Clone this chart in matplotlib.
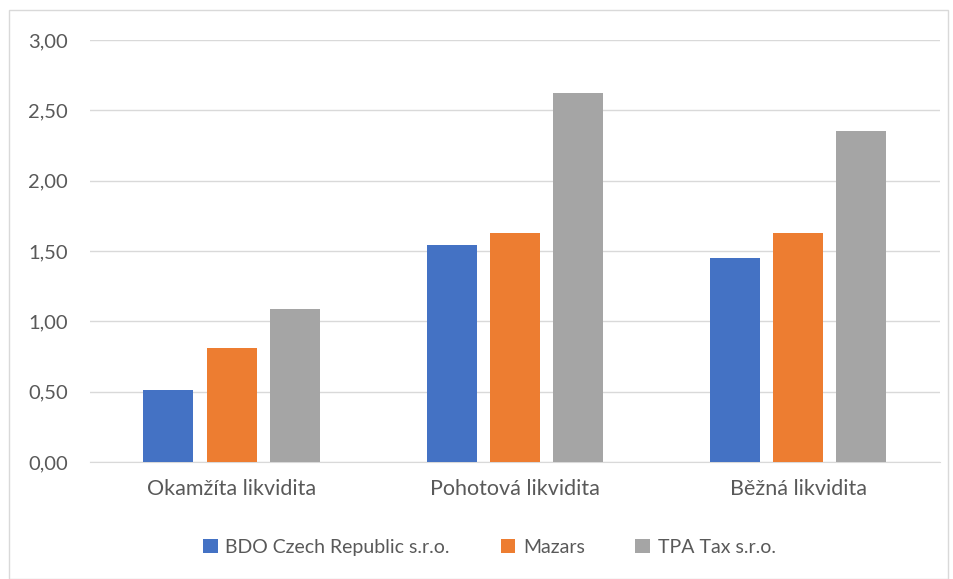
import numpy as np
import matplotlib.pyplot as plt
from matplotlib.patches import Rectangle
from matplotlib.ticker import FuncFormatter

plt.rcParams['font.family'] = ['Lato', 'DejaVu Sans']

categories = ['Okamžíta likvidita', 'Pohotová likvidita', 'Běžná likvidita']
series_names = ['BDO Czech Republic s.r.o.', 'Mazars', 'TPA Tax s.r.o.']
bdo = [0.51, 1.54, 1.45]
mazars = [0.81, 1.63, 1.63]
tpa = [1.09, 2.62, 2.35]
colors = ['#4472C4', '#ED7D31', '#A5A5A5']
yticks = [0, 0.5, 1.0, 1.5, 2.0, 2.5, 3.0]

text_col = '#595959'
grid_col = '#D9D9D9'

fig = plt.figure(figsize=(9.54, 5.79), dpi=100)
ax = fig.add_axes([0.0943, 0.2021, 0.8907, 0.7289])

# chart border
fig.patches.append(Rectangle((9 / 954, 0.0), 939 / 954, 1 - 10 / 579,
                             transform=fig.transFigure, fill=False,
                             edgecolor=grid_col, linewidth=1))

x = np.arange(len(categories))
w = 0.177
step = 0.223
for i, (vals, name) in enumerate(zip([bdo, mazars, tpa], series_names)):
    ax.bar(x + (i - 1) * step, vals, width=w, color=colors[i], label=name, zorder=3)

ax.set_xlim(-0.5, 2.5)
ax.set_ylim(0, 3.0)
ax.set_yticks(yticks)
ax.yaxis.set_major_formatter(FuncFormatter(lambda v, p: f'{v:.2f}'.replace('.', ',')))
ax.set_xticks(x)
ax.set_xticklabels(categories)
ax.grid(axis='y', color=grid_col, linewidth=1, zorder=0)
for s in ['top', 'right', 'left']:
    ax.spines[s].set_visible(False)
ax.spines['bottom'].set_color(grid_col)
ax.tick_params(axis='both', length=0, colors=text_col)
ax.tick_params(axis='x', pad=12, labelsize=15.5)
ax.tick_params(axis='y', pad=16, labelsize=14.5)

leg = fig.legend(loc='center', bbox_to_anchor=(0.513, 0.055), ncol=3, frameon=False,
                 fontsize=14, handlelength=0.75, handleheight=0.75, handletextpad=0.4,
                 columnspacing=2.6)
for t in leg.get_texts():
    t.set_color(text_col)

fig.savefig('out.png', dpi=100)
